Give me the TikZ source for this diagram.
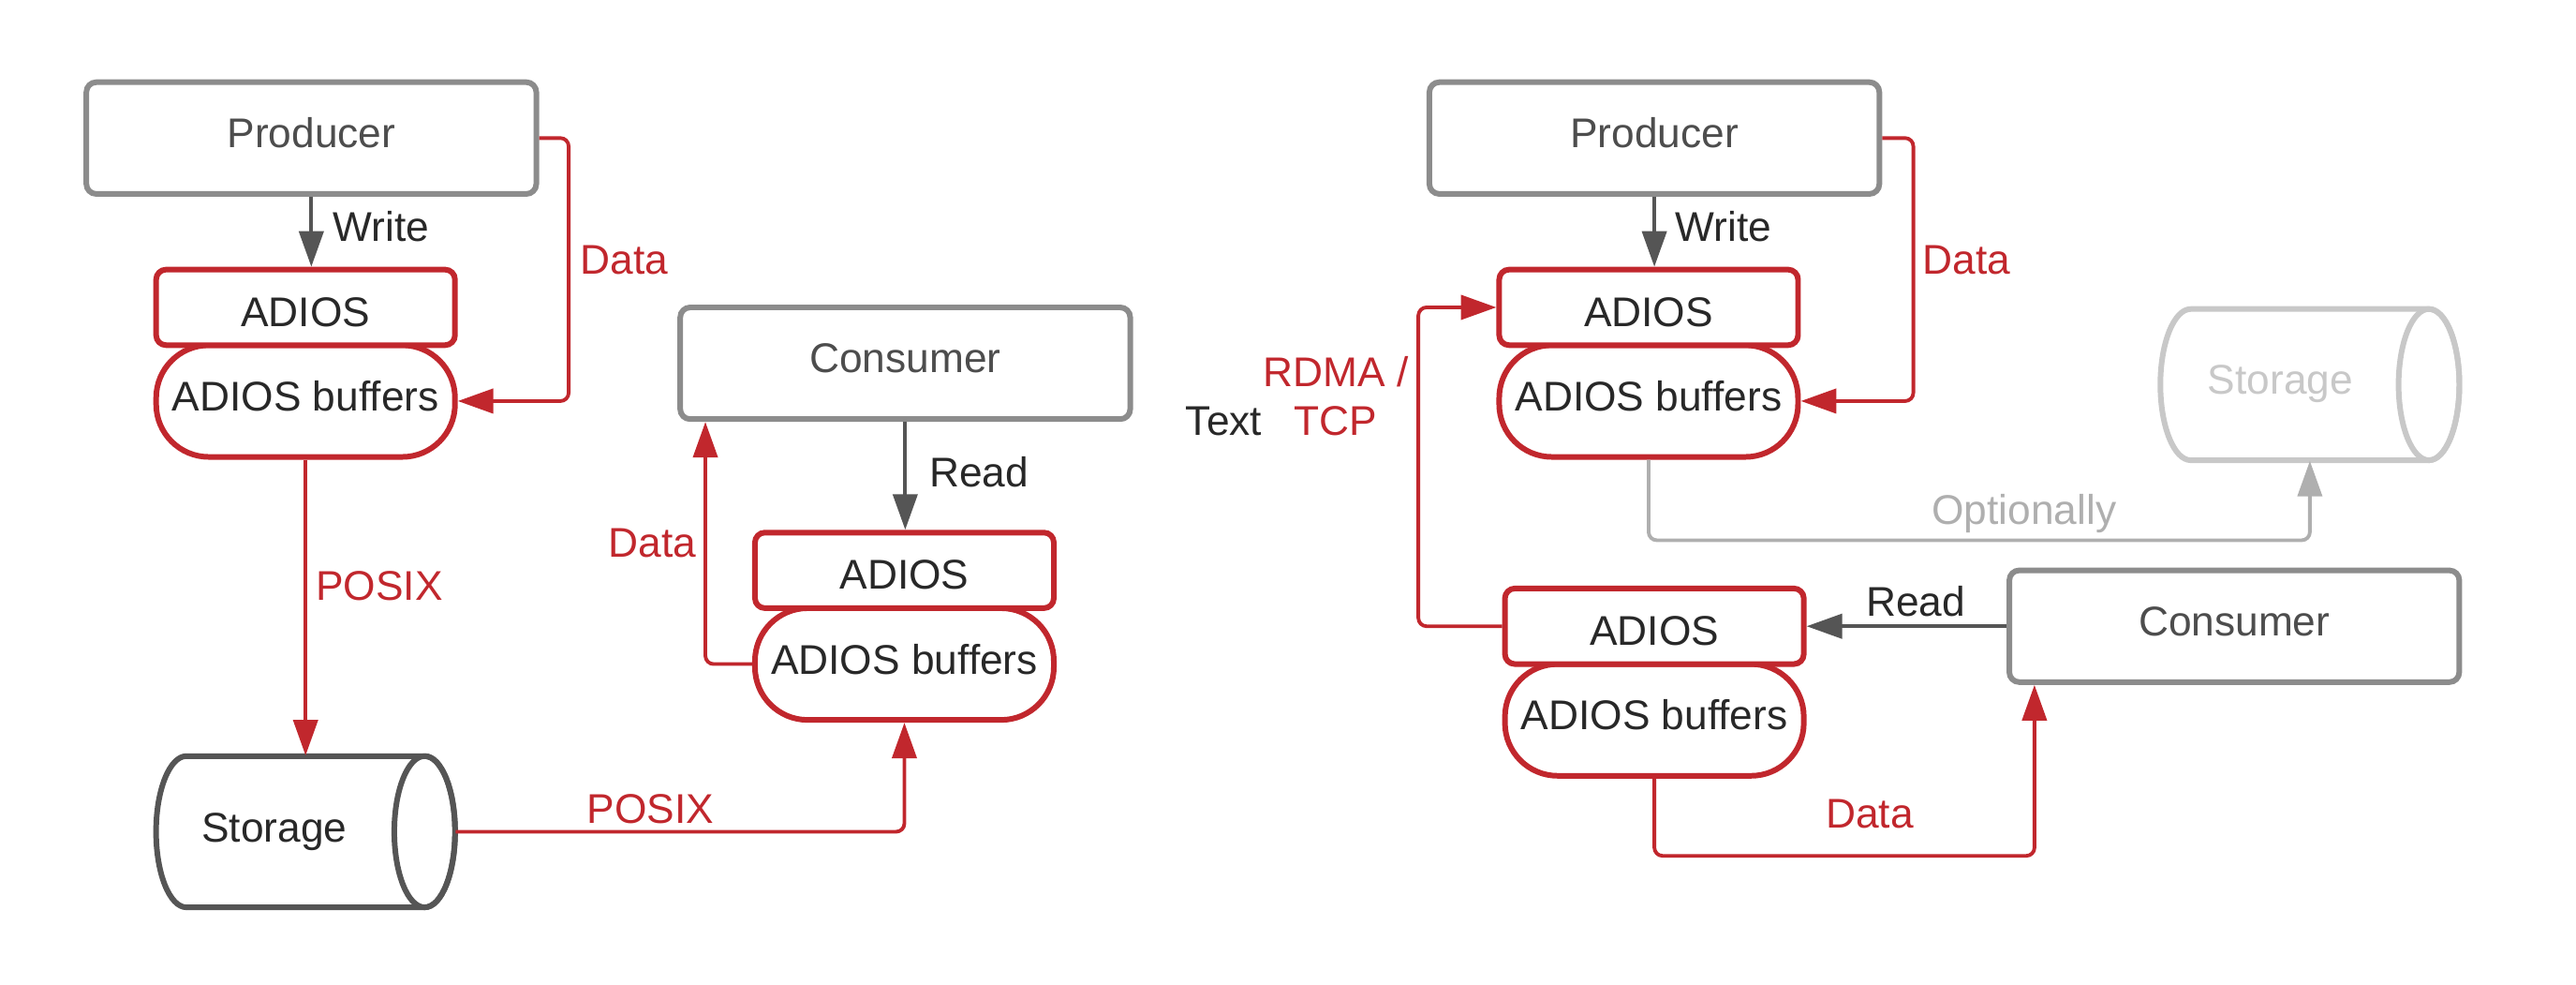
\documentclass[tikz,border=0pt]{standalone}
\usepackage{fontspec}
\setmainfont{Liberation Sans}
\usetikzlibrary{arrows.meta,calc}
\definecolor{adred}{HTML}{C1272D}
\definecolor{boxgray}{HTML}{8C8C8C}
\definecolor{arrgray}{HTML}{555555}
\definecolor{txtdark}{HTML}{282828}
\definecolor{txtgray}{HTML}{4D4D4D}
\definecolor{lightcyl}{HTML}{C8C8C8}
\definecolor{optgray}{HTML}{AFAFAF}
\newcommand\drawcyl[3]{%
  \draw[#3, line width=1.7pt, fill=white, line join=round]
    ({#1-72.5},{#2-46}) -- ({#1+72.5},{#2-46})
    arc[start angle=-90, end angle=90, x radius=18.5, y radius=46]
    -- ({#1-72.5},{#2+46})
    arc[start angle=90, end angle=270, x radius=18.5, y radius=46] -- cycle;
  \draw[#3, line width=1.7pt] ({#1+72.5},{#2}) ellipse[x radius=18.5, y radius=46];
}
\begin{document}
\begin{tikzpicture}[x=0.017538cm, y=-0.017538cm,
  every node/.style={font=\fontsize{12.6}{15}\selectfont, inner sep=0pt},
  capc/.style={text height=9pt, text depth=0pt},
  procbox/.style={capc, draw=boxgray, line width=1.7pt, rounded corners=3pt, fill=white,
    text=txtgray, minimum width=274*0.4986pt, minimum height=68*0.4986pt},
  adbox/.style={capc, draw=adred, line width=1.7pt, rounded corners=3pt, fill=white,
    text=txtdark, minimum width=182*0.4986pt, minimum height=46*0.4986pt},
  bufbox/.style={capc, draw=adred, line width=1.7pt, rounded corners=16pt, fill=white,
    text=txtdark, minimum width=182*0.4986pt, minimum height=68*0.4986pt},
  cylspace/.style={minimum width=182*0.4986pt, minimum height=92*0.4986pt},
  redline/.style={draw=adred, line width=1.1pt, rounded corners=2.5pt,
    -{Triangle[length=10.8pt, width=7.4pt]}},
  darkline/.style={draw=arrgray, line width=1.1pt,
    -{Triangle[length=10.8pt, width=7.4pt]}},
  optline/.style={draw=optgray, line width=1.1pt, rounded corners=2.5pt,
    -{Triangle[length=10.8pt, width=7.4pt]}},
  redlbl/.style={capc, text=adred},
  darklbl/.style={capc, text=txtdark},
]
\useasboundingbox (0,0) rectangle (1568,598.7);

% ---------- left diagram ----------
\node[procbox] (prod1) at (189.5,84) {\raisebox{1.7pt}{Producer}};
\node[bufbox] (buf1) at (186,244) {\raisebox{1.5pt}{ADIOS buffers}};
\node[adbox] (ad1) at (186,187) {\raisebox{-1.2pt}{ADIOS}};
\node[cylspace] (st1) at (186,506) {};
\drawcyl{186}{506}{arrgray}
\node[darklbl] (st1l) at (167,503) {Storage};
\node[procbox] (cons1) at (551,221) {\raisebox{1.7pt}{Consumer}};
\node[bufbox] (buf2) at (550.5,404) {\raisebox{1.5pt}{ADIOS buffers}};
\node[adbox] (ad2) at (550.5,347) {\raisebox{-1.2pt}{ADIOS}};

\draw[darkline] (prod1.south) -- (prod1.south |- ad1.north);
\node[darklbl] (w1) at (232,138) {Write};
\draw[redline] (prod1.east) -- ++(18,0) |- (buf1.east);
\node[redlbl] (d1) at (380,158) {Data};
\draw[redline] (buf1.south) -- (buf1.south |- st1.north);
\node[redlbl] (p1) at (231,356) {POSIX};
\draw[redline] (st1.east) -| (buf2.south);
\node[redlbl] (p2) at (396,492) {POSIX};
\draw[darkline] (cons1.south) -- (cons1.south |- ad2.north);
\node[darklbl] (r1) at (596,287) {Read};
\draw[redline] (buf2.west) -| ($(cons1.south west)+(17,0)$);
\node[redlbl] (d2) at (397,330) {Data};

% ---------- middle ----------
\node[darklbl] (txt) at (745,256) {Text};

% ---------- right diagram ----------
\node[procbox] (prod2) at (1007,84) {\raisebox{1.7pt}{Producer}};
\node[bufbox] (buf3) at (1003.5,244) {\raisebox{1.5pt}{ADIOS buffers}};
\node[adbox] (ad3) at (1003.5,187) {\raisebox{-1.2pt}{ADIOS}};
\node[cylspace] (st2) at (1406,234) {};
\drawcyl{1406}{234}{lightcyl}
\node[capc, text=lightcyl] (st2l) at (1388,231) {Storage};
\node[bufbox] (buf4) at (1007,438) {\raisebox{1.5pt}{ADIOS buffers}};
\node[adbox] (ad4) at (1007,381) {\raisebox{-1.2pt}{ADIOS}};
\node[procbox] (cons2) at (1360,381) {\raisebox{1.7pt}{Consumer}};

\draw[darkline] (prod2.south) -- (prod2.south |- ad3.north);
\node[darklbl] (w2) at (1049,138) {Write};
\draw[redline] (prod2.east) -- ++(19,0) |- (buf3.east);
\node[redlbl] (d3) at (1197,158) {Data};
\draw[optline] (buf3.south) -- ++(0,49) -| (st2.south);
\node[capc, text=optgray] (opt) at (1232,310) {Optionally};
\draw[darkline] (cons2.west) -- (ad4.east);
\node[darklbl] (r2) at (1166,366) {Read};
\draw[redline] (ad4.west) -- ++(-51,0) |- (ad3.west);
\node[text=adred, align=center] (rdma) at (813,241) {RDMA /\\TCP};
\draw[redline] (buf4.south) -- ++(0,47) -| ($(cons2.south west)+(17,0)$);
\node[redlbl] (d4) at (1138,495) {Data};
\end{tikzpicture}
\end{document}
